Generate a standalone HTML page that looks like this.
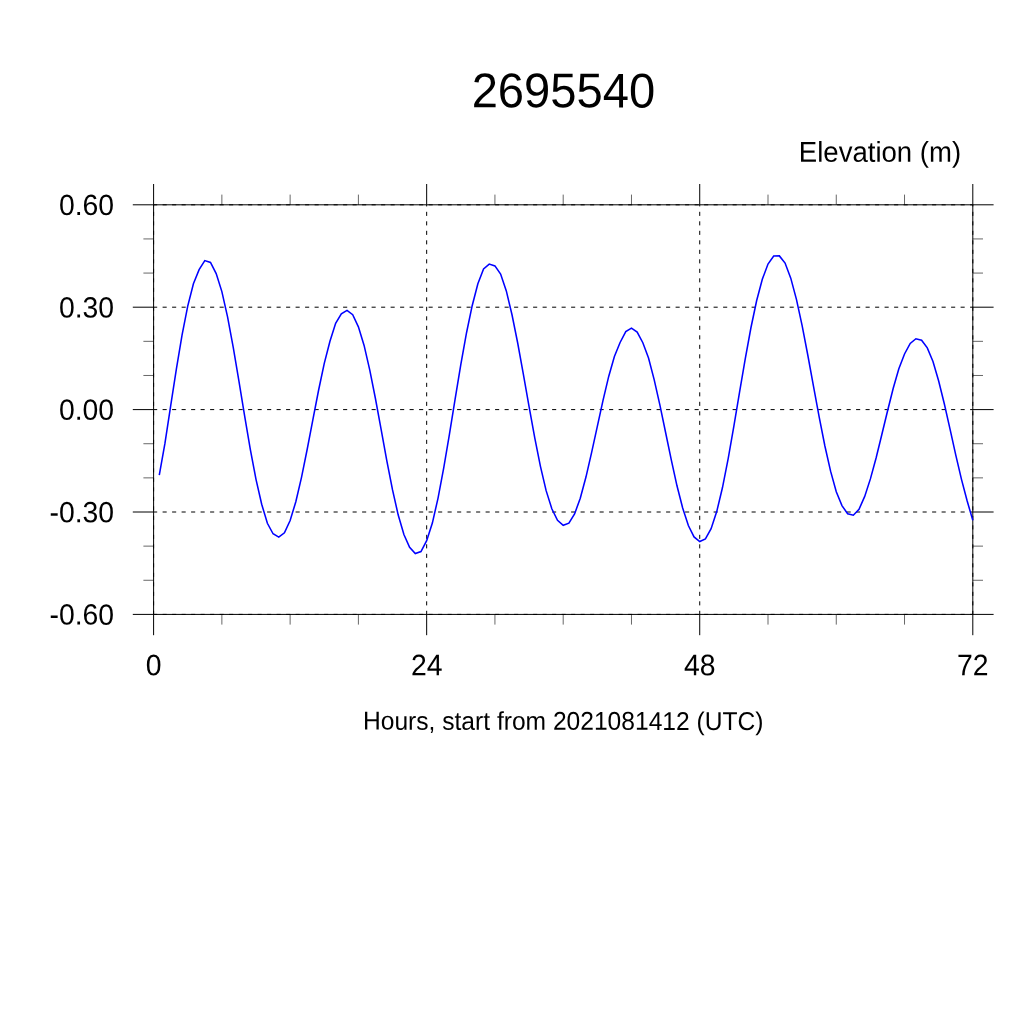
<!DOCTYPE html>
<html><head><meta charset="utf-8"><title>2695540</title>
<style>
html,body{margin:0;padding:0;background:#fff;}
body{width:1024px;height:1024px;overflow:hidden;}
svg{display:block;}
text{font-family:"Liberation Sans",sans-serif;fill:#000;text-rendering:geometricPrecision;}
</style></head><body>
<svg width="1024" height="1024" viewBox="0 0 1024 1024">
<rect width="1024" height="1024" fill="#fff"/>

<g stroke="#000" stroke-width="1" stroke-dasharray="4.1 5.4" stroke-dashoffset="0.5" fill="none">
<line x1="153.6" y1="204.80" x2="972.8" y2="204.80"/>
<line x1="153.6" y1="307.20" x2="972.8" y2="307.20"/>
<line x1="153.6" y1="409.60" x2="972.8" y2="409.60"/>
<line x1="153.6" y1="512.00" x2="972.8" y2="512.00"/>
<line x1="153.6" y1="614.40" x2="972.8" y2="614.40"/>
<line x1="153.60" y1="614.4" x2="153.60" y2="204.8"/>
<line x1="426.67" y1="614.4" x2="426.67" y2="204.8"/>
<line x1="699.73" y1="614.4" x2="699.73" y2="204.8"/>
<line x1="972.80" y1="614.4" x2="972.80" y2="204.8"/>
</g>
<rect x="153.6" y="204.8" width="819.20" height="409.60" fill="none" stroke="#000" stroke-width="1"/>
<g stroke="#000" stroke-width="1">
<line x1="132.80" y1="204.80" x2="153.6" y2="204.80"/>
<line x1="972.8" y1="204.80" x2="993.60" y2="204.80"/>
<line x1="132.80" y1="307.20" x2="153.6" y2="307.20"/>
<line x1="972.8" y1="307.20" x2="993.60" y2="307.20"/>
<line x1="132.80" y1="409.60" x2="153.6" y2="409.60"/>
<line x1="972.8" y1="409.60" x2="993.60" y2="409.60"/>
<line x1="132.80" y1="512.00" x2="153.6" y2="512.00"/>
<line x1="972.8" y1="512.00" x2="993.60" y2="512.00"/>
<line x1="132.80" y1="614.40" x2="153.6" y2="614.40"/>
<line x1="972.8" y1="614.40" x2="993.60" y2="614.40"/>
<line x1="153.60" y1="184.00" x2="153.60" y2="204.8"/>
<line x1="153.60" y1="614.4" x2="153.60" y2="635.20"/>
<line x1="426.67" y1="184.00" x2="426.67" y2="204.8"/>
<line x1="426.67" y1="614.4" x2="426.67" y2="635.20"/>
<line x1="699.73" y1="184.00" x2="699.73" y2="204.8"/>
<line x1="699.73" y1="614.4" x2="699.73" y2="635.20"/>
<line x1="972.80" y1="184.00" x2="972.80" y2="204.8"/>
<line x1="972.80" y1="614.4" x2="972.80" y2="635.20"/>
</g>
<g stroke="#000" stroke-width="0.6">
<line x1="143.40" y1="580.27" x2="153.6" y2="580.27"/>
<line x1="972.8" y1="580.27" x2="983.00" y2="580.27"/>
<line x1="143.40" y1="546.13" x2="153.6" y2="546.13"/>
<line x1="972.8" y1="546.13" x2="983.00" y2="546.13"/>
<line x1="143.40" y1="477.87" x2="153.6" y2="477.87"/>
<line x1="972.8" y1="477.87" x2="983.00" y2="477.87"/>
<line x1="143.40" y1="443.73" x2="153.6" y2="443.73"/>
<line x1="972.8" y1="443.73" x2="983.00" y2="443.73"/>
<line x1="143.40" y1="375.47" x2="153.6" y2="375.47"/>
<line x1="972.8" y1="375.47" x2="983.00" y2="375.47"/>
<line x1="143.40" y1="341.33" x2="153.6" y2="341.33"/>
<line x1="972.8" y1="341.33" x2="983.00" y2="341.33"/>
<line x1="143.40" y1="273.07" x2="153.6" y2="273.07"/>
<line x1="972.8" y1="273.07" x2="983.00" y2="273.07"/>
<line x1="143.40" y1="238.93" x2="153.6" y2="238.93"/>
<line x1="972.8" y1="238.93" x2="983.00" y2="238.93"/>
<line x1="221.87" y1="194.60" x2="221.87" y2="204.8"/>
<line x1="221.87" y1="614.4" x2="221.87" y2="624.60"/>
<line x1="290.13" y1="194.60" x2="290.13" y2="204.8"/>
<line x1="290.13" y1="614.4" x2="290.13" y2="624.60"/>
<line x1="358.40" y1="194.60" x2="358.40" y2="204.8"/>
<line x1="358.40" y1="614.4" x2="358.40" y2="624.60"/>
<line x1="494.93" y1="194.60" x2="494.93" y2="204.8"/>
<line x1="494.93" y1="614.4" x2="494.93" y2="624.60"/>
<line x1="563.20" y1="194.60" x2="563.20" y2="204.8"/>
<line x1="563.20" y1="614.4" x2="563.20" y2="624.60"/>
<line x1="631.47" y1="194.60" x2="631.47" y2="204.8"/>
<line x1="631.47" y1="614.4" x2="631.47" y2="624.60"/>
<line x1="768.00" y1="194.60" x2="768.00" y2="204.8"/>
<line x1="768.00" y1="614.4" x2="768.00" y2="624.60"/>
<line x1="836.27" y1="194.60" x2="836.27" y2="204.8"/>
<line x1="836.27" y1="614.4" x2="836.27" y2="624.60"/>
<line x1="904.53" y1="194.60" x2="904.53" y2="204.8"/>
<line x1="904.53" y1="614.4" x2="904.53" y2="624.60"/>
</g>
<polyline points="159.29,475.20 164.98,443.15 170.67,405.88 176.36,369.15 182.04,335.21 187.73,306.05 193.42,283.77 199.11,269.60 204.80,260.60 210.49,262.50 216.18,273.64 221.87,291.64 227.56,316.91 233.24,347.45 238.93,381.21 244.62,415.91 250.31,449.31 256.00,479.32 261.69,504.23 267.38,523.31 273.07,533.75 278.76,537.10 284.44,532.75 290.13,520.59 295.82,501.69 301.51,477.34 307.20,449.27 312.89,419.54 318.58,390.25 324.27,363.43 329.96,341.25 335.64,323.23 341.33,313.75 347.02,310.40 352.71,314.75 358.40,326.87 364.09,345.41 369.78,370.06 375.47,398.76 381.16,429.72 386.84,460.80 392.53,489.90 398.22,515.09 403.91,534.57 409.60,547.25 415.29,553.50 420.98,551.50 426.67,540.64 432.36,523.06 438.04,498.06 443.73,467.96 449.42,434.29 455.11,399.15 460.80,364.69 466.49,332.97 472.18,305.69 477.87,283.73 483.56,269.00 489.24,264.10 494.93,265.90 500.62,274.07 506.31,290.90 512.00,314.76 517.69,343.01 523.38,374.32 529.07,406.64 534.76,437.94 540.44,466.37 546.13,490.64 551.82,508.75 557.51,520.25 563.20,525.25 568.89,523.10 574.58,513.95 580.27,498.24 585.96,477.07 591.64,452.41 597.33,426.31 603.02,400.44 608.71,376.44 614.40,356.57 620.09,342.48 625.78,331.60 631.47,328.10 637.16,332.10 642.84,342.71 648.53,358.01 654.22,379.89 659.91,405.18 665.60,432.50 671.29,459.96 676.98,485.81 682.67,508.05 688.36,525.57 694.04,536.90 699.73,541.50 705.42,539.00 711.11,528.75 716.80,511.31 722.49,487.53 728.18,458.56 733.87,426.13 739.56,392.19 745.24,358.76 750.93,327.75 756.62,300.77 762.31,279.31 768.00,264.00 773.69,256.00 779.38,255.90 785.07,263.10 790.76,278.13 796.44,299.41 802.13,325.59 807.82,355.24 813.51,386.41 819.20,417.23 824.89,445.99 830.58,471.18 836.27,491.73 841.96,505.60 847.64,513.75 853.33,515.25 859.02,509.40 864.71,496.43 870.40,478.89 876.09,458.02 881.78,434.70 887.47,411.26 893.16,388.50 898.84,368.80 904.53,353.97 910.22,343.40 915.91,338.75 921.60,340.25 927.29,347.90 932.98,361.50 938.67,381.04 944.36,403.98 950.04,429.14 955.73,454.93 961.42,479.12 967.11,500.72 972.80,520.40" fill="none" stroke="#0000ff" stroke-width="1.55" stroke-linejoin="miter"/>
<text transform="matrix(1.0,0.001,0,1.035,563.40,107.35)" font-size="47.15" text-anchor="middle">2695540</text>
<text transform="matrix(1.0,0.001,0,1.045,961.10,161.85)" font-size="27.56" text-anchor="end">Elevation (m)</text>
<text transform="matrix(1.0,0.001,0,1.03,114.10,215.05)" font-size="28.37" text-anchor="end">0.60</text>
<text transform="matrix(1.0,0.001,0,1.03,114.10,317.45)" font-size="28.37" text-anchor="end">0.30</text>
<text transform="matrix(1.0,0.001,0,1.03,114.10,419.85)" font-size="28.37" text-anchor="end">0.00</text>
<text transform="matrix(1.0,0.001,0,1.03,114.10,522.25)" font-size="28.37" text-anchor="end">-0.30</text>
<text transform="matrix(1.0,0.001,0,1.03,114.10,624.65)" font-size="28.37" text-anchor="end">-0.60</text>
<text transform="matrix(1.0,0.001,0,1.045,153.60,675.20)" font-size="28.37" text-anchor="middle">0</text>
<text transform="matrix(1.0,0.001,0,1.045,426.67,675.20)" font-size="28.37" text-anchor="middle">24</text>
<text transform="matrix(1.0,0.001,0,1.045,699.73,675.20)" font-size="28.37" text-anchor="middle">48</text>
<text transform="matrix(1.0,0.001,0,1.045,972.80,675.20)" font-size="28.37" text-anchor="middle">72</text>
<text transform="matrix(1.0,0.001,0,1.045,563.20,729.80)" font-size="24.6" text-anchor="middle">Hours, start from 2021081412 (UTC)</text>
</svg></body></html>
